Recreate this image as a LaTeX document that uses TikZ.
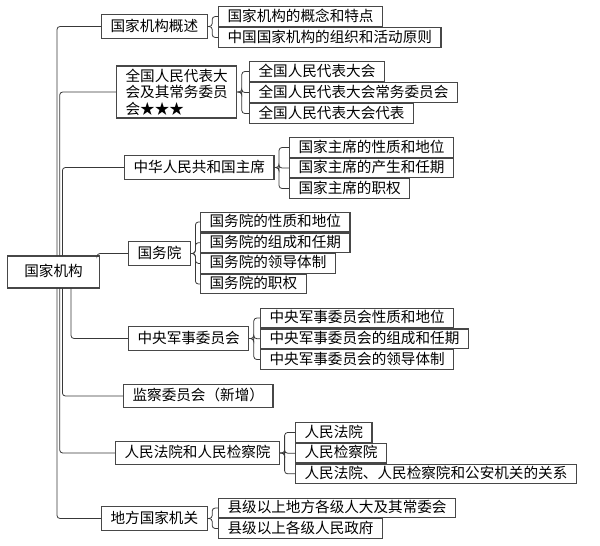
\documentclass[tikz,border=0pt]{standalone}
\usepackage{fontspec}
\setmainfont{Noto Sans CJK SC}
\usetikzlibrary{calc}
\begin{document}
\begin{tikzpicture}[x=1pt,y=-1pt,
  box/.style={draw=black!72, line width=1.1pt, fill=white, anchor=west,
    font=\fontsize{14.6}{17}\selectfont, inner xsep=9pt, inner ysep=1.5pt,
    text height=12pt, text depth=3pt},
  leaf/.style={box, minimum height=19.5pt},
  topbox/.style={box, minimum height=23.5pt},
  conn/.style={draw=black!78, line width=0.8pt, rounded corners=3pt}]
\useasboundingbox (0,0) rectangle (600,546);

% root
\node[box, minimum width=92pt, minimum height=32pt, text height=12pt] (root) at (7,272) {国家机构};

% level 1
\node[topbox] (p1) at (101,26.5) {国家机构概述};
\node[draw=black!72, line width=1.1pt, fill=white, anchor=west, align=left,
  font=\fontsize{14.6}{16.5}\selectfont, inner xsep=9pt, inner ysep=2pt,
  minimum height=52pt] (p2) at (116,92) {全国人民代表大\\会及其常务委员\\会★★★};
\node[topbox] (p3) at (124,167.5) {中华人民共和国主席};
\node[topbox] (p4) at (128,253.5) {国务院};
\node[topbox] (p5) at (128,338.5) {中央军事委员会};
\node[topbox] (p6) at (123,396) {监察委员会（新增）};
\node[topbox] (p7) at (115,453) {人民法院和人民检察院};
\node[topbox] (p8) at (101,518.5) {地方国家机关};

% leaves
\node[leaf] (a1) at (218,16.5) {国家机构的概念和特点};
\node[leaf] (a2) at (218,37.5) {中国国家机构的组织和活动原则};

\node[leaf] (b1) at (249,71.5) {全国人民代表大会};
\node[leaf] (b2) at (249,92.5) {全国人民代表大会常务委员会};
\node[leaf] (b3) at (249,113.5) {全国人民代表大会代表};

\node[leaf] (c1) at (289,147.5) {国家主席的性质和地位};
\node[leaf] (c2) at (289,168) {国家主席的产生和任期};
\node[leaf] (c3) at (289,188.5) {国家主席的职权};

\node[leaf] (d1) at (200,222) {国务院的性质和地位};
\node[leaf] (d2) at (200,242.7) {国务院的组成和任期};
\node[leaf] (d3) at (200,263.4) {国务院的领导体制};
\node[leaf] (d4) at (200,284) {国务院的职权};

\node[leaf] (e1) at (260,318) {中央军事委员会性质和地位};
\node[leaf] (e2) at (260,338.7) {中央军事委员会的组成和任期};
\node[leaf] (e3) at (260,359.5) {中央军事委员会的领导体制};

\node[leaf] (f1) at (295,432.5) {人民法院};
\node[leaf] (f2) at (295,453.2) {人民检察院};
\node[leaf] (f3) at (295,473.8) {人民法院、人民检察院和公安机关的关系};

\node[leaf] (g1) at (218,508) {县级以上地方各级人大及其常委会};
\node[leaf] (g2) at (218,528.5) {县级以上各级人民政府};

% trunk
\draw[conn] (57,256) |- (p1.west);
\draw[conn] (59.7,256) |- (p2.west);
\draw[conn] (62.4,256) |- (p3.west);
\draw[conn] (97,256) |- (p4.west);
\draw[conn] (71,288) |- (p5.west);
\draw[conn] (62.4,288) |- (p6.west);
\draw[conn] (59.7,288) |- (p7.west);
\draw[conn] (57,288) |- (p8.west);

% brackets
\foreach \p/\cs in {p1/{a1,a2}, p2/{b1,b2,b3}, p3/{c1,c2,c3}, p4/{d1,d2,d3,d4},
                    p5/{e1,e2,e3}, p7/{f1,f2,f3}, p8/{g1,g2}} {
  \foreach \c in \cs {
    \draw[conn] (\p.east) -- ++(4.5,0) |- (\c.west);
  }
}
\end{tikzpicture}
\end{document}
